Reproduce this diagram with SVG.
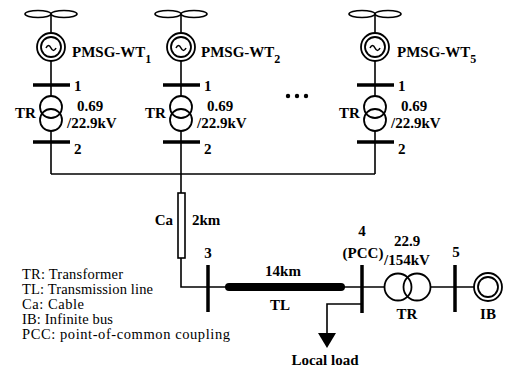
<svg xmlns="http://www.w3.org/2000/svg" width="509" height="370" viewBox="0 0 509 370" font-family="'Liberation Serif', 'Times New Roman', serif">
<defs>
<style>
.ln{stroke:#000;stroke-width:1.6;fill:none}
.bus{stroke:#000;stroke-width:3.5;fill:none}
.c{stroke:#000;stroke-width:1.8;fill:none}
.blade{stroke:#000;stroke-width:1.6;fill:#fff}
.b{font-weight:bold;font-size:15px}
.lg{font-size:14.5px}
</style>
<g id="wt">
<ellipse class="blade" cx="-13" cy="0" rx="13" ry="3.5"/>
<ellipse class="blade" cx="13" cy="0" rx="13" ry="3.5"/>
<line class="ln" x1="0" y1="0" x2="0" y2="19"/>
<circle class="c" cx="0" cy="33" r="14"/>
<circle class="c" cx="0" cy="33" r="10"/>
<path class="ln" d="M-5,34 q2.5,-5 5,0 t5,0"/>
<line class="ln" x1="0" y1="47" x2="0" y2="82"/>
<line class="bus" x1="-18" y1="71" x2="19" y2="71"/>
<circle class="c" cx="0" cy="93" r="11"/>
<circle class="c" cx="0" cy="106" r="11"/>
<line class="ln" x1="0" y1="117" x2="0" y2="160"/>
<line class="bus" x1="-18" y1="128" x2="19" y2="128"/>
</g>
</defs>

<g id="connectors">
<polyline class="ln" points="51,174 375,174"/>
<polyline class="ln" points="181,174 181,193"/>
<polyline class="ln" points="181,258 181,287 208,287 228,287"/>
<line x1="229" y1="287" x2="341" y2="287" stroke="#000" stroke-width="8" stroke-linecap="round"/>
<polyline class="ln" points="341,287 385,287"/>
<polyline class="ln" points="430,287 474,287"/>
<polyline class="ln" points="362,304 327,304 327,334"/>
<polygon points="318,333 336,333 327,348" fill="#000"/>
</g>

<g id="wt1">
<use href="#wt" x="51" y="14"/>
<text class="b" x="72" y="57">PMSG-WT<tspan font-size="12" dy="6">1</tspan></text>
<text class="b" x="74" y="91">1</text>
<text class="b" x="74" y="154">2</text>
<text class="b" x="15" y="118">TR</text>
<text class="b" x="77" y="111">0.69</text>
<text class="b" x="67" y="128">/22.9kV</text>
</g>

<g id="wt2">
<use href="#wt" x="181" y="14"/>
<text class="b" x="201" y="57">PMSG-WT<tspan font-size="12" dy="6">2</tspan></text>
<text class="b" x="204" y="91">1</text>
<text class="b" x="204" y="154">2</text>
<text class="b" x="145" y="118">TR</text>
<text class="b" x="207" y="111">0.69</text>
<text class="b" x="197" y="128">/22.9kV</text>
</g>

<g id="dots">
<circle cx="288" cy="96" r="2.2"/>
<circle cx="297" cy="96" r="2.2"/>
<circle cx="306" cy="96" r="2.2"/>
</g>

<g id="wt5">
<use href="#wt" x="375" y="14"/>
<text class="b" x="397" y="57">PMSG-WT<tspan font-size="12" dy="6">5</tspan></text>
<text class="b" x="398" y="91">1</text>
<text class="b" x="398" y="154">2</text>
<text class="b" x="339" y="118">TR</text>
<text class="b" x="401" y="111">0.69</text>
<text class="b" x="391" y="128">/22.9kV</text>
</g>

<g id="cable">
<rect x="178" y="193" width="7" height="65" class="ln" fill="#fff"/>
<text class="b" x="173" y="225" text-anchor="end">Ca</text>
<text class="b" x="192" y="225">2km</text>
</g>

<g id="bus3">
<line class="bus" x1="208" y1="265" x2="208" y2="312"/>
<text class="b" x="208" y="258" text-anchor="middle" font-size="17">3</text>
</g>

<g id="tl">
<text class="b" x="283" y="276" text-anchor="middle">14km</text>
<text class="b" x="280" y="310" text-anchor="middle">TL</text>
</g>

<g id="bus4">
<line class="bus" x1="362" y1="265" x2="362" y2="313"/>
<text class="b" x="362" y="236" text-anchor="middle" font-size="17">4</text>
<text class="b" x="363" y="258" text-anchor="middle">(PCC)</text>
</g>

<g id="tr">
<circle class="c" cx="398" cy="287" r="13.5"/>
<circle class="c" cx="417" cy="287" r="13.5"/>
<text class="b" x="407" y="246" text-anchor="middle">22.9</text>
<text class="b" x="407" y="265" text-anchor="middle">/154kV</text>
<text class="b" x="407" y="319" text-anchor="middle">TR</text>
</g>

<g id="bus5">
<line class="bus" x1="455" y1="265" x2="455" y2="312"/>
<text class="b" x="456" y="257" text-anchor="middle" font-size="19">5</text>
</g>

<g id="ib">
<circle class="c" cx="488" cy="287" r="14"/>
<circle class="c" cx="488" cy="287" r="10"/>
<text class="b" x="488" y="319" text-anchor="middle">IB</text>
</g>

<g id="load">
<text class="b" x="325" y="365" text-anchor="middle">Local load</text>
</g>

<g id="legend">
<text class="lg" x="22" y="279" textLength="101">TR: Transformer</text>
<text class="lg" x="22" y="294" textLength="131">TL: Transmission line</text>
<text class="lg" x="22" y="309" textLength="62">Ca: Cable</text>
<text class="lg" x="22" y="324" textLength="91">IB: Infinite bus</text>
<text class="lg" x="22" y="339" textLength="208">PCC: point-of-common coupling</text>
</g>
</svg>
